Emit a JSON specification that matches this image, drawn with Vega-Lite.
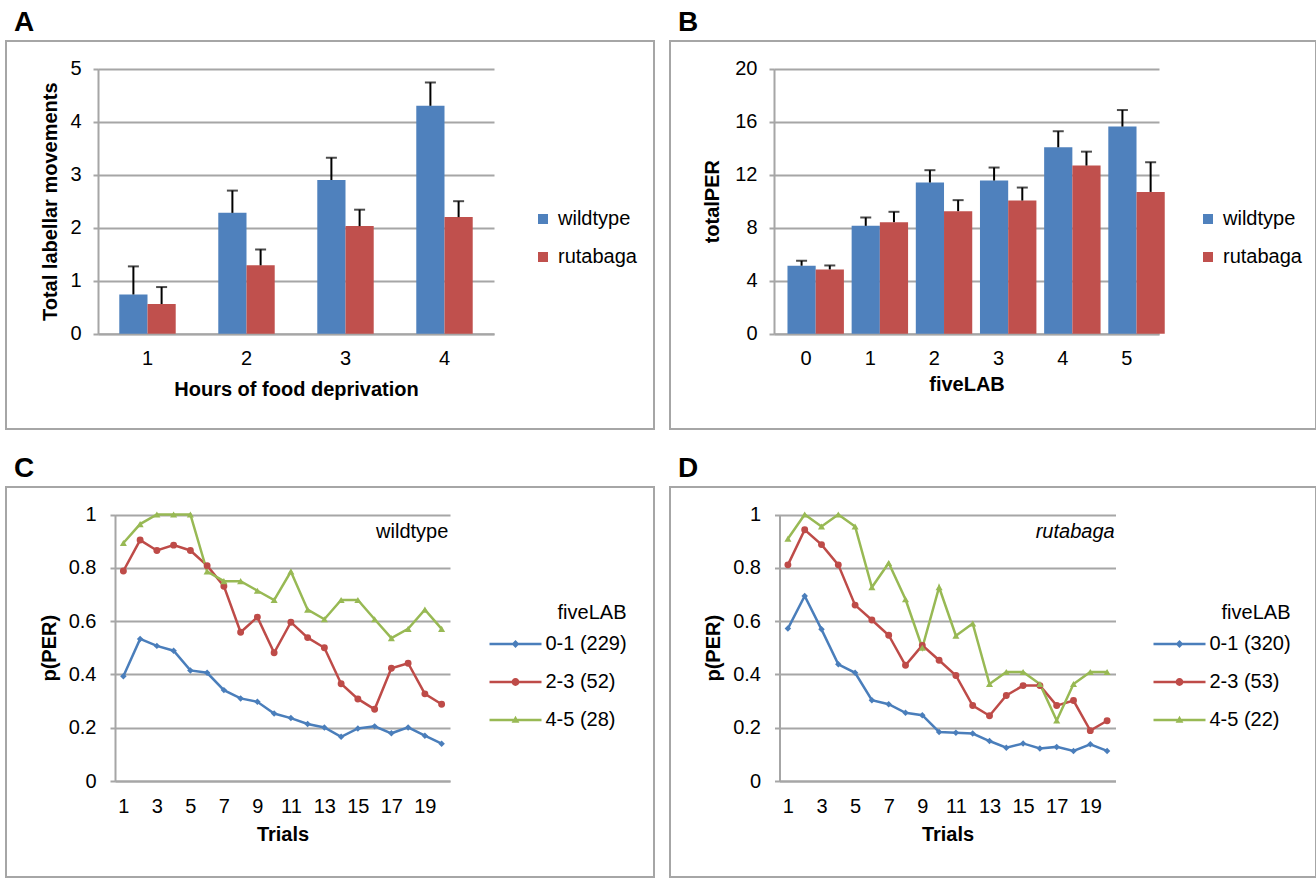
{
  "$schema": "https://vega.github.io/schema/vega-lite/v6.json",
  "padding": {"left": 5, "top": 8, "right": 0, "bottom": 0},
  "background": "white",
  "datasets": {
    "A": [
      {"hours": 1, "genotype": "wildtype", "mean": 0.74, "upper": 1.27},
      {"hours": 1, "genotype": "rutabaga", "mean": 0.56, "upper": 0.88},
      {"hours": 2, "genotype": "wildtype", "mean": 2.28, "upper": 2.70},
      {"hours": 2, "genotype": "rutabaga", "mean": 1.29, "upper": 1.59},
      {"hours": 3, "genotype": "wildtype", "mean": 2.90, "upper": 3.32},
      {"hours": 3, "genotype": "rutabaga", "mean": 2.03, "upper": 2.34},
      {"hours": 4, "genotype": "wildtype", "mean": 4.30, "upper": 4.74},
      {"hours": 4, "genotype": "rutabaga", "mean": 2.20, "upper": 2.50}
    ],
    "B": [
      {"fiveLAB": 0, "genotype": "wildtype", "mean": 5.13, "upper": 5.50},
      {"fiveLAB": 0, "genotype": "rutabaga", "mean": 4.85, "upper": 5.15},
      {"fiveLAB": 1, "genotype": "wildtype", "mean": 8.14, "upper": 8.77},
      {"fiveLAB": 1, "genotype": "rutabaga", "mean": 8.42, "upper": 9.20},
      {"fiveLAB": 2, "genotype": "wildtype", "mean": 11.41, "upper": 12.34},
      {"fiveLAB": 2, "genotype": "rutabaga", "mean": 9.25, "upper": 10.08},
      {"fiveLAB": 3, "genotype": "wildtype", "mean": 11.56, "upper": 12.54},
      {"fiveLAB": 3, "genotype": "rutabaga", "mean": 10.05, "upper": 11.03},
      {"fiveLAB": 4, "genotype": "wildtype", "mean": 14.07, "upper": 15.28},
      {"fiveLAB": 4, "genotype": "rutabaga", "mean": 12.69, "upper": 13.74},
      {"fiveLAB": 5, "genotype": "wildtype", "mean": 15.63, "upper": 16.88},
      {"fiveLAB": 5, "genotype": "rutabaga", "mean": 10.70, "upper": 12.94}
    ],
    "C": [
      {"trial": 1, "group": "0-1 (229)", "p": 0.393}, {"trial": 2, "group": "0-1 (229)", "p": 0.533}, {"trial": 3, "group": "0-1 (229)", "p": 0.507}, {"trial": 4, "group": "0-1 (229)", "p": 0.489}, {"trial": 5, "group": "0-1 (229)", "p": 0.415},
      {"trial": 6, "group": "0-1 (229)", "p": 0.406}, {"trial": 7, "group": "0-1 (229)", "p": 0.341}, {"trial": 8, "group": "0-1 (229)", "p": 0.310}, {"trial": 9, "group": "0-1 (229)", "p": 0.297}, {"trial": 10, "group": "0-1 (229)", "p": 0.253},
      {"trial": 11, "group": "0-1 (229)", "p": 0.236}, {"trial": 12, "group": "0-1 (229)", "p": 0.214}, {"trial": 13, "group": "0-1 (229)", "p": 0.201}, {"trial": 14, "group": "0-1 (229)", "p": 0.166}, {"trial": 15, "group": "0-1 (229)", "p": 0.197},
      {"trial": 16, "group": "0-1 (229)", "p": 0.205}, {"trial": 17, "group": "0-1 (229)", "p": 0.179}, {"trial": 18, "group": "0-1 (229)", "p": 0.201}, {"trial": 19, "group": "0-1 (229)", "p": 0.170}, {"trial": 20, "group": "0-1 (229)", "p": 0.140},
      {"trial": 1, "group": "2-3 (52)", "p": 0.788}, {"trial": 2, "group": "2-3 (52)", "p": 0.904}, {"trial": 3, "group": "2-3 (52)", "p": 0.865}, {"trial": 4, "group": "2-3 (52)", "p": 0.885}, {"trial": 5, "group": "2-3 (52)", "p": 0.865},
      {"trial": 6, "group": "2-3 (52)", "p": 0.808}, {"trial": 7, "group": "2-3 (52)", "p": 0.731}, {"trial": 8, "group": "2-3 (52)", "p": 0.558}, {"trial": 9, "group": "2-3 (52)", "p": 0.615}, {"trial": 10, "group": "2-3 (52)", "p": 0.481},
      {"trial": 11, "group": "2-3 (52)", "p": 0.596}, {"trial": 12, "group": "2-3 (52)", "p": 0.538}, {"trial": 13, "group": "2-3 (52)", "p": 0.500}, {"trial": 14, "group": "2-3 (52)", "p": 0.365}, {"trial": 15, "group": "2-3 (52)", "p": 0.308},
      {"trial": 16, "group": "2-3 (52)", "p": 0.269}, {"trial": 17, "group": "2-3 (52)", "p": 0.423}, {"trial": 18, "group": "2-3 (52)", "p": 0.442}, {"trial": 19, "group": "2-3 (52)", "p": 0.327}, {"trial": 20, "group": "2-3 (52)", "p": 0.288},
      {"trial": 1, "group": "4-5 (28)", "p": 0.893}, {"trial": 2, "group": "4-5 (28)", "p": 0.964}, {"trial": 3, "group": "4-5 (28)", "p": 1.0}, {"trial": 4, "group": "4-5 (28)", "p": 1.0}, {"trial": 5, "group": "4-5 (28)", "p": 1.0},
      {"trial": 6, "group": "4-5 (28)", "p": 0.786}, {"trial": 7, "group": "4-5 (28)", "p": 0.750}, {"trial": 8, "group": "4-5 (28)", "p": 0.750}, {"trial": 9, "group": "4-5 (28)", "p": 0.714}, {"trial": 10, "group": "4-5 (28)", "p": 0.679},
      {"trial": 11, "group": "4-5 (28)", "p": 0.786}, {"trial": 12, "group": "4-5 (28)", "p": 0.643}, {"trial": 13, "group": "4-5 (28)", "p": 0.607}, {"trial": 14, "group": "4-5 (28)", "p": 0.679}, {"trial": 15, "group": "4-5 (28)", "p": 0.679},
      {"trial": 16, "group": "4-5 (28)", "p": 0.607}, {"trial": 17, "group": "4-5 (28)", "p": 0.536}, {"trial": 18, "group": "4-5 (28)", "p": 0.571}, {"trial": 19, "group": "4-5 (28)", "p": 0.643}, {"trial": 20, "group": "4-5 (28)", "p": 0.571}
    ],
    "D": [
      {"trial": 1, "group": "0-1 (320)", "p": 0.572}, {"trial": 2, "group": "0-1 (320)", "p": 0.694}, {"trial": 3, "group": "0-1 (320)", "p": 0.569}, {"trial": 4, "group": "0-1 (320)", "p": 0.438}, {"trial": 5, "group": "0-1 (320)", "p": 0.406},
      {"trial": 6, "group": "0-1 (320)", "p": 0.303}, {"trial": 7, "group": "0-1 (320)", "p": 0.288}, {"trial": 8, "group": "0-1 (320)", "p": 0.256}, {"trial": 9, "group": "0-1 (320)", "p": 0.247}, {"trial": 10, "group": "0-1 (320)", "p": 0.184},
      {"trial": 11, "group": "0-1 (320)", "p": 0.181}, {"trial": 12, "group": "0-1 (320)", "p": 0.178}, {"trial": 13, "group": "0-1 (320)", "p": 0.150}, {"trial": 14, "group": "0-1 (320)", "p": 0.125}, {"trial": 15, "group": "0-1 (320)", "p": 0.141},
      {"trial": 16, "group": "0-1 (320)", "p": 0.122}, {"trial": 17, "group": "0-1 (320)", "p": 0.128}, {"trial": 18, "group": "0-1 (320)", "p": 0.113}, {"trial": 19, "group": "0-1 (320)", "p": 0.138}, {"trial": 20, "group": "0-1 (320)", "p": 0.113},
      {"trial": 1, "group": "2-3 (53)", "p": 0.811}, {"trial": 2, "group": "2-3 (53)", "p": 0.943}, {"trial": 3, "group": "2-3 (53)", "p": 0.887}, {"trial": 4, "group": "2-3 (53)", "p": 0.811}, {"trial": 5, "group": "2-3 (53)", "p": 0.660},
      {"trial": 6, "group": "2-3 (53)", "p": 0.604}, {"trial": 7, "group": "2-3 (53)", "p": 0.547}, {"trial": 8, "group": "2-3 (53)", "p": 0.434}, {"trial": 9, "group": "2-3 (53)", "p": 0.509}, {"trial": 10, "group": "2-3 (53)", "p": 0.453},
      {"trial": 11, "group": "2-3 (53)", "p": 0.396}, {"trial": 12, "group": "2-3 (53)", "p": 0.283}, {"trial": 13, "group": "2-3 (53)", "p": 0.245}, {"trial": 14, "group": "2-3 (53)", "p": 0.321}, {"trial": 15, "group": "2-3 (53)", "p": 0.358},
      {"trial": 16, "group": "2-3 (53)", "p": 0.358}, {"trial": 17, "group": "2-3 (53)", "p": 0.283}, {"trial": 18, "group": "2-3 (53)", "p": 0.302}, {"trial": 19, "group": "2-3 (53)", "p": 0.189}, {"trial": 20, "group": "2-3 (53)", "p": 0.226},
      {"trial": 1, "group": "4-5 (22)", "p": 0.909}, {"trial": 2, "group": "4-5 (22)", "p": 1.0}, {"trial": 3, "group": "4-5 (22)", "p": 0.955}, {"trial": 4, "group": "4-5 (22)", "p": 1.0}, {"trial": 5, "group": "4-5 (22)", "p": 0.955},
      {"trial": 6, "group": "4-5 (22)", "p": 0.727}, {"trial": 7, "group": "4-5 (22)", "p": 0.818}, {"trial": 8, "group": "4-5 (22)", "p": 0.682}, {"trial": 9, "group": "4-5 (22)", "p": 0.500}, {"trial": 10, "group": "4-5 (22)", "p": 0.727},
      {"trial": 11, "group": "4-5 (22)", "p": 0.545}, {"trial": 12, "group": "4-5 (22)", "p": 0.591}, {"trial": 13, "group": "4-5 (22)", "p": 0.364}, {"trial": 14, "group": "4-5 (22)", "p": 0.409}, {"trial": 15, "group": "4-5 (22)", "p": 0.409},
      {"trial": 16, "group": "4-5 (22)", "p": 0.364}, {"trial": 17, "group": "4-5 (22)", "p": 0.227}, {"trial": 18, "group": "4-5 (22)", "p": 0.364}, {"trial": 19, "group": "4-5 (22)", "p": 0.409}, {"trial": 20, "group": "4-5 (22)", "p": 0.409}
    ]
  },
  "spacing": 24,
  "resolve": {"scale": {"color": "independent", "shape": "independent"}, "legend": {"color": "independent", "shape": "independent"}},
  "vconcat": [
    {
      "spacing": 14,
      "resolve": {"scale": {"color": "independent", "shape": "independent"}, "legend": {"color": "independent", "shape": "independent"}},
      "hconcat": [
        {
          "title": "A",
          "width": 648, "height": 388,
          "data": {"name": "A"},
          "encoding": {
            "x": {"field": "hours", "type": "ordinal", "scale": {"range": [92, 488], "paddingInner": 0.43, "paddingOuter": 0.215},
                  "axis": {"title": "Hours of food deprivation", "labelAngle": 0, "ticks": false, "tickSize": 0, "grid": false, "offset": -95.3, "labelPadding": 15, "titlePadding": 11}},
            "xOffset": {"field": "genotype", "type": "nominal", "scale": {"domain": ["wildtype", "rutabaga"]}}
          },
          "layer": [
            {
              "mark": {"type": "bar"},
              "encoding": {
                "y": {"field": "mean", "type": "quantitative", "scale": {"domain": [0, 5], "range": [292.7, 27.7], "nice": false},
                      "axis": {"title": "Total labellar movements", "values": [0, 1, 2, 3, 4, 5], "format": "d", "offset": -92, "tickSize": 5, "labelPadding": 12, "titlePadding": 9}},
                "color": {"field": "genotype", "type": "nominal", "scale": {"domain": ["wildtype", "rutabaga"], "range": ["#4f81bd", "#c0504d"]},
                          "legend": {"title": null, "orient": "none", "legendX": 527, "legendY": 168, "symbolType": "square", "symbolSize": 100, "rowPadding": 18, "labelOffset": 5, "symbolStrokeWidth": 0}}
              }
            },
            {
              "mark": {"type": "rule", "color": "black", "strokeWidth": 2},
              "encoding": {"y": {"field": "mean", "type": "quantitative"}, "y2": {"field": "upper"}}
            },
            {
              "mark": {"type": "tick", "orient": "horizontal", "color": "black", "thickness": 2, "size": 11},
              "encoding": {"y": {"field": "upper", "type": "quantitative"}}
            }
          ]
        },
        {
          "title": "B",
          "width": 646, "height": 388,
          "data": {"name": "B"},
          "encoding": {
            "x": {"field": "fiveLAB", "type": "ordinal", "scale": {"range": [104, 489], "paddingInner": 0.42, "paddingOuter": 0.21},
                  "axis": {"title": "fiveLAB", "labelAngle": 0, "ticks": false, "tickSize": 0, "grid": false, "offset": -95.3, "labelPadding": 15, "titlePadding": 6}},
            "xOffset": {"field": "genotype", "type": "nominal", "scale": {"domain": ["wildtype", "rutabaga"]}}
          },
          "layer": [
            {
              "mark": {"type": "bar"},
              "encoding": {
                "y": {"field": "mean", "type": "quantitative", "scale": {"domain": [0, 20], "range": [292.7, 27.7], "nice": false},
                      "axis": {"title": "totalPER", "values": [0, 4, 8, 12, 16, 20], "format": "d", "offset": -104, "tickSize": 5, "labelPadding": 12, "titlePadding": 12}},
                "color": {"field": "genotype", "type": "nominal", "scale": {"domain": ["wildtype", "rutabaga"], "range": ["#4f81bd", "#c0504d"]},
                          "legend": {"title": null, "orient": "none", "legendX": 528, "legendY": 168, "symbolType": "square", "symbolSize": 100, "rowPadding": 18, "labelOffset": 5, "symbolStrokeWidth": 0}}
              }
            },
            {
              "mark": {"type": "rule", "color": "black", "strokeWidth": 2},
              "encoding": {"y": {"field": "mean", "type": "quantitative"}, "y2": {"field": "upper"}}
            },
            {
              "mark": {"type": "tick", "orient": "horizontal", "color": "black", "thickness": 2, "size": 11},
              "encoding": {"y": {"field": "upper", "type": "quantitative"}}
            }
          ]
        }
      ]
    },
    {
      "spacing": 14,
      "resolve": {"scale": {"color": "independent", "shape": "independent"}, "legend": {"color": "independent", "shape": "independent"}},
      "hconcat": [
        {
          "title": "C",
          "width": 648, "height": 390,
          "data": {"name": "C"},
          "encoding": {
            "x": {"field": "trial", "type": "quantitative", "scale": {"domain": [0.5, 20.5], "range": [109, 444], "nice": false, "zero": false},
                  "axis": {"title": "Trials", "values": [1, 3, 5, 7, 9, 11, 13, 15, 17, 19], "grid": false, "ticks": false, "tickSize": 0, "offset": -96, "labelPadding": 15, "titlePadding": 8}},
            "y": {"field": "p", "type": "quantitative", "scale": {"domain": [0, 1], "range": [294, 27.5], "nice": false},
                  "axis": {"title": "p(PER)", "values": [0, 0.2, 0.4, 0.6, 0.8, 1], "format": "~g", "offset": -109, "tickSize": 5, "labelPadding": 14, "titlePadding": 9}}
          },
          "layer": [
            {"transform": [{"filter": "datum.group === '0-1 (229)'"}], "mark": {"type": "line", "strokeWidth": 2.5, "color": "#4a7ebb"}, "encoding": {}},
            {"transform": [{"filter": "datum.group === '2-3 (52)'"}], "mark": {"type": "line", "strokeWidth": 2.5, "color": "#be4b48"}, "encoding": {}},
            {"transform": [{"filter": "datum.group === '4-5 (28)'"}], "mark": {"type": "line", "strokeWidth": 2.5, "color": "#98b954"}, "encoding": {}},
            {
              "transform": [{"filter": "datum.group === '0-1 (229)'"}],
              "mark": {"type": "point", "shape": "diamond", "filled": true, "size": 42, "opacity": 1},
              "encoding": {"color": {"field": "group", "type": "nominal", "scale": {"domain": ["0-1 (229)", "2-3 (52)", "4-5 (28)"], "range": ["#4a7ebb", "#be4b48", "#98b954"]},
                "legend": {"title": "fiveLAB", "orient": "none", "legendX": 496.5, "legendY": 116, "symbolSize": 676, "rowPadding": 15, "labelOffset": 17, "titlePadding": 8, "titleAnchor": "end", "symbolStrokeWidth": 0}}}
            },
            {
              "transform": [{"filter": "datum.group === '2-3 (52)'"}],
              "mark": {"type": "point", "shape": "circle", "filled": true, "size": 48, "opacity": 1},
              "encoding": {"color": {"field": "group", "type": "nominal"}}
            },
            {
              "transform": [{"filter": "datum.group === '4-5 (28)'"}],
              "mark": {"type": "point", "shape": "triangle-up", "filled": true, "size": 50, "opacity": 1},
              "encoding": {"color": {"field": "group", "type": "nominal"}}
            },
            {
              "transform": [{"filter": "datum.trial < 0"}],
              "mark": {"type": "point", "filled": true, "opacity": 1},
              "encoding": {
                "color": {"field": "group", "type": "nominal"},
                "shape": {"field": "group", "type": "nominal", "scale": {"domain": ["0-1 (229)", "2-3 (52)", "4-5 (28)"],
                  "range": ["M-2,-0.1H2V0.1H-2Z M0,-0.3L0.3,0L0,0.3L-0.3,0Z", "M-2,-0.1H2V0.1H-2Z M-0.3,0A0.3,0.3 0 1,1 0.3,0A0.3,0.3 0 1,1 -0.3,0Z", "M-2,-0.1H2V0.1H-2Z M0,-0.32L0.3,0.22L-0.3,0.22Z"]},
                  "legend": {"title": "fiveLAB", "orient": "none", "legendX": 496.5, "legendY": 116, "symbolSize": 676, "rowPadding": 15, "labelOffset": 17, "titlePadding": 8, "titleAnchor": "end", "symbolStrokeWidth": 0}}
              }
            },
            {
              "transform": [{"filter": "datum.trial === 20 && datum.group === '0-1 (229)'"}],
              "mark": {"type": "text", "align": "right", "baseline": "middle", "fontSize": 20, "color": "black"},
              "encoding": {"x": {"datum": 20.4, "type": "quantitative"}, "y": {"datum": 0.935, "type": "quantitative"}, "text": {"value": "wildtype"}}
            }
          ]
        },
        {
          "title": "D",
          "width": 646, "height": 390,
          "data": {"name": "D"},
          "encoding": {
            "x": {"field": "trial", "type": "quantitative", "scale": {"domain": [0.5, 20.5], "range": [109.5, 445.5], "nice": false, "zero": false},
                  "axis": {"title": "Trials", "values": [1, 3, 5, 7, 9, 11, 13, 15, 17, 19], "grid": false, "ticks": false, "tickSize": 0, "offset": -96, "labelPadding": 15, "titlePadding": 8}},
            "y": {"field": "p", "type": "quantitative", "scale": {"domain": [0, 1], "range": [294, 27.5], "nice": false},
                  "axis": {"title": "p(PER)", "values": [0, 0.2, 0.4, 0.6, 0.8, 1], "format": "~g", "offset": -109.5, "tickSize": 5, "labelPadding": 14, "titlePadding": 9}}
          },
          "layer": [
            {"transform": [{"filter": "datum.group === '0-1 (320)'"}], "mark": {"type": "line", "strokeWidth": 2.5, "color": "#4a7ebb"}, "encoding": {}},
            {"transform": [{"filter": "datum.group === '2-3 (53)'"}], "mark": {"type": "line", "strokeWidth": 2.5, "color": "#be4b48"}, "encoding": {}},
            {"transform": [{"filter": "datum.group === '4-5 (22)'"}], "mark": {"type": "line", "strokeWidth": 2.5, "color": "#98b954"}, "encoding": {}},
            {
              "transform": [{"filter": "datum.group === '0-1 (320)'"}],
              "mark": {"type": "point", "shape": "diamond", "filled": true, "size": 42, "opacity": 1},
              "encoding": {"color": {"field": "group", "type": "nominal", "scale": {"domain": ["0-1 (320)", "2-3 (53)", "4-5 (22)"], "range": ["#4a7ebb", "#be4b48", "#98b954"]},
                "legend": {"title": "fiveLAB", "orient": "none", "legendX": 496.5, "legendY": 116, "symbolSize": 676, "rowPadding": 15, "labelOffset": 17, "titlePadding": 8, "titleAnchor": "end", "symbolStrokeWidth": 0}}}
            },
            {
              "transform": [{"filter": "datum.group === '2-3 (53)'"}],
              "mark": {"type": "point", "shape": "circle", "filled": true, "size": 48, "opacity": 1},
              "encoding": {"color": {"field": "group", "type": "nominal"}}
            },
            {
              "transform": [{"filter": "datum.group === '4-5 (22)'"}],
              "mark": {"type": "point", "shape": "triangle-up", "filled": true, "size": 50, "opacity": 1},
              "encoding": {"color": {"field": "group", "type": "nominal"}}
            },
            {
              "transform": [{"filter": "datum.trial < 0"}],
              "mark": {"type": "point", "filled": true, "opacity": 1},
              "encoding": {
                "color": {"field": "group", "type": "nominal"},
                "shape": {"field": "group", "type": "nominal", "scale": {"domain": ["0-1 (320)", "2-3 (53)", "4-5 (22)"],
                  "range": ["M-2,-0.1H2V0.1H-2Z M0,-0.3L0.3,0L0,0.3L-0.3,0Z", "M-2,-0.1H2V0.1H-2Z M-0.3,0A0.3,0.3 0 1,1 0.3,0A0.3,0.3 0 1,1 -0.3,0Z", "M-2,-0.1H2V0.1H-2Z M0,-0.32L0.3,0.22L-0.3,0.22Z"]},
                  "legend": {"title": "fiveLAB", "orient": "none", "legendX": 496.5, "legendY": 116, "symbolSize": 676, "rowPadding": 15, "labelOffset": 17, "titlePadding": 8, "titleAnchor": "end", "symbolStrokeWidth": 0}}
              }
            },
            {
              "transform": [{"filter": "datum.trial === 20 && datum.group === '0-1 (320)'"}],
              "mark": {"type": "text", "align": "right", "baseline": "middle", "fontSize": 20, "fontStyle": "italic", "color": "black"},
              "encoding": {"x": {"datum": 20.45, "type": "quantitative"}, "y": {"datum": 0.935, "type": "quantitative"}, "text": {"value": "rutabaga"}}
            }
          ]
        }
      ]
    }
  ],
  "config": {
    "font": "Liberation Sans",
    "view": {"stroke": "#a6a6a6", "strokeWidth": 2},
    "axis": {
      "labelFont": "Liberation Sans", "labelFontSize": 20, "labelColor": "#000000",
      "titleFont": "Liberation Sans", "titleFontSize": 20, "titleFontWeight": "bold", "titleColor": "#000000",
      "domainColor": "#a6a6a6", "domainWidth": 2, "gridColor": "#a6a6a6", "gridWidth": 2, "tickColor": "#a6a6a6", "tickWidth": 2
    },
    "legend": {"labelFont": "Liberation Sans", "labelFontSize": 20, "labelColor": "#000000", "titleFont": "Liberation Sans", "titleFontSize": 20, "titleFontWeight": "normal", "titleColor": "#000000", "padding": 0, "labelLimit": 300},
    "title": {"font": "Liberation Sans", "fontSize": 28, "fontWeight": "bold", "anchor": "start", "frame": "group", "color": "#000000", "offset": 4, "dx": 8}
  }
}
